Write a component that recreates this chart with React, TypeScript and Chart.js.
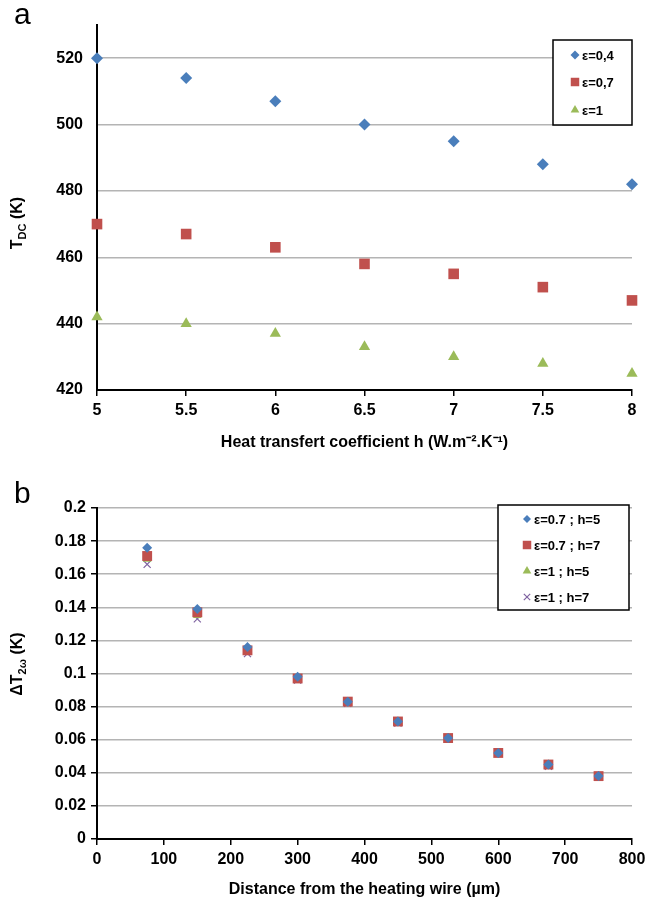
import React, { useEffect, useRef } from 'react';
import { Chart, registerables } from 'chart.js';
import { drawPoint } from 'chart.js/helpers';

Chart.register(...registerables);

// ---------- Data: panel a ----------
const hValues = [5, 5.5, 6, 6.5, 7, 7.5, 8];
const tEps04 = [520, 514, 507, 500, 495, 488, 482];
const tEps07 = [470, 467, 463, 458, 455, 451, 447];
const tEps1 = [442, 440, 437, 433, 430, 428, 425];
const labelsA = ['ε=0,4', 'ε=0,7', 'ε=1'];
const yTicksA = [420, 440, 460, 480, 500, 520];

// ---------- Data: panel b ----------
const distances = [75, 150, 225, 300, 375, 450, 525, 600, 675, 750];
const dEps07h5 = [0.176, 0.139, 0.116, 0.098, 0.083, 0.071, 0.061, 0.052, 0.045, 0.038];
const dEps07h7 = [0.171, 0.137, 0.114, 0.097, 0.083, 0.071, 0.061, 0.052, 0.045, 0.038];
const dEps1h5 = [0.169, 0.135, 0.113, 0.097, 0.082, 0.071, 0.061, 0.052, 0.045, 0.038];
const dEps1h7 = [0.166, 0.133, 0.112, 0.096, 0.082, 0.070, 0.061, 0.052, 0.044, 0.038];
const labelsB = ['ε=0.7 ; h=5', 'ε=0.7 ; h=7', 'ε=1 ; h=5', 'ε=1 ; h=7'];
const yTicksB = [0, 0.02, 0.04, 0.06, 0.08, 0.1, 0.12, 0.14, 0.16, 0.18, 0.2];

const BLUE = '#4a7ebb';
const RED = '#c0504d';
const GREEN = '#9bbb59';
const PURPLE = '#8064a2';
const GRID = '#b4b4b4';
const FONT = "'Liberation Sans', Arial, sans-serif";

const tickFont = { family: FONT, size: 16, weight: 'bold' as const };
const titleFont = { family: FONT, size: 16, weight: 'bold' as const };

function makeExtras(cfg: any) {
  return {
    id: 'extras',
    afterDatasetsDraw(chart: any) {
      const ctx = chart.ctx as CanvasRenderingContext2D;
      ctx.save();
      // panel letter
      ctx.fillStyle = '#000';
      ctx.font = `30px ${FONT}`;
      ctx.textBaseline = 'alphabetic';
      ctx.textAlign = 'left';
      ctx.fillText(cfg.letter, cfg.letterX, cfg.letterY);

      // y title with subscript
      ctx.save();
      ctx.translate(cfg.yTitleX, cfg.yTitleY);
      ctx.rotate(-Math.PI / 2);
      const mainF = `bold 16px ${FONT}`;
      const subF = `bold 11px ${FONT}`;
      ctx.font = mainF;
      const w1 = ctx.measureText(cfg.yMain).width;
      const w3 = ctx.measureText(cfg.yTail).width;
      ctx.font = subF;
      const w2 = ctx.measureText(cfg.ySub).width;
      let x = -(w1 + w2 + w3) / 2;
      ctx.textBaseline = 'alphabetic';
      ctx.font = mainF;
      ctx.fillText(cfg.yMain, x, 5);
      x += w1;
      ctx.font = subF;
      ctx.fillText(cfg.ySub, x, 9);
      x += w2;
      ctx.font = mainF;
      ctx.fillText(cfg.yTail, x, 5);
      ctx.restore();

      // legend box
      const L = cfg.legend;
      ctx.fillStyle = '#fff';
      ctx.fillRect(L.x, L.y, L.w, L.h);
      ctx.strokeStyle = '#000';
      ctx.lineWidth = 1.5;
      ctx.strokeRect(L.x, L.y, L.w, L.h);
      ctx.font = `bold 13px ${FONT}`;
      ctx.textBaseline = 'middle';
      chart.data.datasets.forEach((ds: any, i: number) => {
        const yy = L.itemY[i];
        ctx.fillStyle = ds.backgroundColor;
        ctx.strokeStyle = ds.borderColor;
        ctx.lineWidth = ds.borderWidth || 1;
        drawPoint(ctx, {
          pointStyle: ds.pointStyle,
          radius: ds.legendRadius,
          rotation: 0,
          borderWidth: ds.borderWidth,
        } as any, L.markerX, yy);
        ctx.fillStyle = '#000';
        ctx.fillText(ds.label, L.textX, yy + 1);
      });
      ctx.restore();
    },
  };
}

function pts(xs: number[], ys: number[]) {
  return xs.map((x, i) => ({ x, y: ys[i] }));
}

export default function App() {
  const refA = useRef<HTMLCanvasElement>(null);
  const refB = useRef<HTMLCanvasElement>(null);

  useEffect(() => {
    const chartA = new Chart(refA.current as HTMLCanvasElement, {
      type: 'scatter',
      data: {
        datasets: [
          { label: labelsA[0], data: pts(hValues, tEps04), pointStyle: 'rectRot', pointRadius: 6, backgroundColor: BLUE, borderColor: BLUE, borderWidth: 0, legendRadius: 4.5, clip: false } as any,
          { label: labelsA[1], data: pts(hValues, tEps07), pointStyle: 'rect', pointRadius: 7.5, backgroundColor: RED, borderColor: RED, borderWidth: 0, legendRadius: 6, clip: false } as any,
          { label: labelsA[2], data: pts(hValues, tEps1), pointStyle: 'triangle', pointRadius: 6.5, backgroundColor: GREEN, borderColor: GREEN, borderWidth: 0, legendRadius: 5, clip: false } as any,
        ],
      },
      options: {
        animation: false,
        responsive: false,
        maintainAspectRatio: false,
        layout: { padding: { top: 25, right: 29, left: 0, bottom: 0 } },
        plugins: { legend: { display: false }, tooltip: { enabled: false } },
        scales: {
          x: {
            type: 'linear',
            min: 5,
            max: 8,
            ticks: { stepSize: 0.5, font: tickFont, color: '#000', padding: 5, callback: (v: any) => String(v) },
            grid: { drawOnChartArea: false, drawTicks: true, tickLength: 6, color: '#000', lineWidth: 1.5 },
            border: { color: '#000', width: 2 },
            title: {
              display: true,
              text: 'Heat transfert coefficient h (W.m⁻².K⁻¹)',
              font: titleFont,
              color: '#000',
              padding: { top: 0, bottom: 8 },
            },
            afterFit: (s: any) => { s.height = 70; s.paddingLeft = 0; s.paddingRight = 0; },
          } as any,
          y: {
            type: 'linear',
            min: 420,
            max: 530,
            afterBuildTicks: (s: any) => { s.ticks = yTicksA.map((v) => ({ value: v })); },
            ticks: { font: tickFont, color: '#000', padding: 14 },
            grid: {
              drawTicks: false,
              color: (c: any) => (c.tick && c.tick.value === 420 ? 'rgba(0,0,0,0)' : GRID),
              lineWidth: 1.5,
            },
            border: { color: '#000', width: 2 },
            afterFit: (s: any) => { s.width = 97; s.paddingTop = 0; s.paddingBottom = 0; },
          } as any,
        },
      },
      plugins: [
        makeExtras({
          letter: 'a', letterX: 14, letterY: 24,
          yTitleX: 17, yTitleY: 223, yMain: 'T', ySub: 'DC', yTail: ' (K)',
          legend: { x: 553, y: 40, w: 79, h: 85, markerX: 575, textX: 582, itemY: [55, 82, 110] },
        }),
      ],
    } as any);

    const chartB = new Chart(refB.current as HTMLCanvasElement, {
      type: 'scatter',
      data: {
        datasets: [
          { label: labelsB[0], data: pts(distances, dEps07h5), pointStyle: 'rectRot', pointRadius: 5, backgroundColor: BLUE, borderColor: BLUE, borderWidth: 0, legendRadius: 4, clip: false } as any,
          { label: labelsB[1], data: pts(distances, dEps07h7), pointStyle: 'rect', pointRadius: 7, backgroundColor: RED, borderColor: RED, borderWidth: 0, legendRadius: 6, clip: false } as any,
          { label: labelsB[2], data: pts(distances, dEps1h5), pointStyle: 'triangle', pointRadius: 5, backgroundColor: GREEN, borderColor: GREEN, borderWidth: 0, legendRadius: 5, clip: false } as any,
          { label: labelsB[3], data: pts(distances, dEps1h7), pointStyle: 'crossRot', pointRadius: 5, backgroundColor: PURPLE, borderColor: PURPLE, borderWidth: 1.2, legendRadius: 4.5, clip: false } as any,
        ],
      },
      options: {
        animation: false,
        responsive: false,
        maintainAspectRatio: false,
        layout: { padding: { top: 48, right: 29, left: 0, bottom: 0 } },
        plugins: { legend: { display: false }, tooltip: { enabled: false } },
        scales: {
          x: {
            type: 'linear',
            min: 0,
            max: 800,
            ticks: { stepSize: 100, font: tickFont, color: '#000', padding: 5 },
            grid: { drawOnChartArea: false, drawTicks: true, tickLength: 6, color: '#000', lineWidth: 1.5 },
            border: { color: '#000', width: 2 },
            title: {
              display: true,
              text: 'Distance from the heating wire (µm)',
              font: titleFont,
              color: '#000',
              padding: { top: 0, bottom: 5 },
            },
            afterFit: (s: any) => { s.height = 65; s.paddingLeft = 0; s.paddingRight = 0; },
          } as any,
          y: {
            type: 'linear',
            min: 0,
            max: 0.2,
            afterBuildTicks: (s: any) => { s.ticks = yTicksB.map((v) => ({ value: v })); },
            ticks: { font: tickFont, color: '#000', padding: 5, callback: (v: any) => String(v) },
            grid: {
              drawTicks: true,
              tickLength: 6,
              tickColor: '#000',
              color: (c: any) => (c.tick && c.tick.value === 0 ? 'rgba(0,0,0,0)' : GRID),
              lineWidth: 1.5,
            },
            border: { color: '#000', width: 2 },
            afterFit: (s: any) => { s.width = 97; s.paddingTop = 0; s.paddingBottom = 0; },
          } as any,
        },
      },
      plugins: [
        makeExtras({
          letter: 'b', letterX: 14, letterY: 43,
          yTitleX: 17, yTitleY: 204, yMain: 'ΔT', ySub: '2ω', yTail: ' (K)',
          legend: { x: 498, y: 45, w: 131, h: 105, markerX: 527, textX: 534, itemY: [59, 85, 111, 137] },
        }),
      ],
    } as any);

    return () => {
      chartA.destroy();
      chartB.destroy();
    };
  }, []);

  return (
    <div style={{ position: 'absolute', left: 0, top: 0, width: 661, height: 904, background: '#fff' }}>
      <canvas ref={refA} width={661} height={460} style={{ position: 'absolute', left: 0, top: 0, width: 661, height: 460 }} />
      <canvas ref={refB} width={661} height={444} style={{ position: 'absolute', left: 0, top: 460, width: 661, height: 444 }} />
    </div>
  );
}
